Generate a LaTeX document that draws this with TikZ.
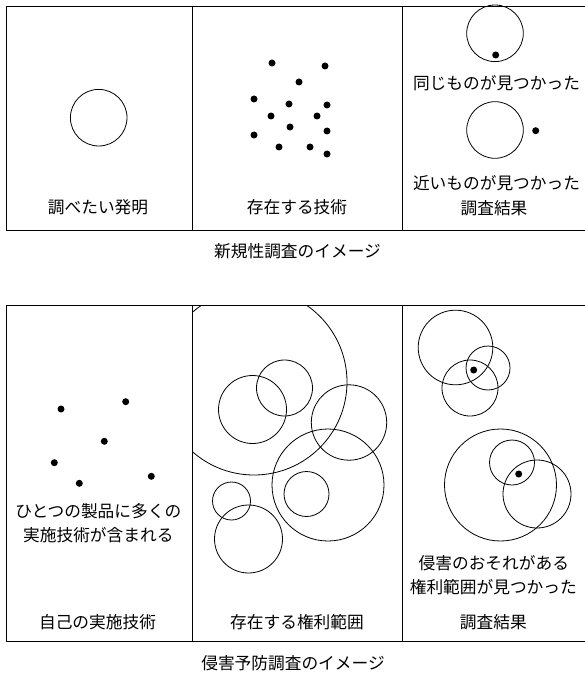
\documentclass[tikz,border=0pt]{standalone}
\usepackage{fontspec}
\setmainfont{Noto Sans CJK JP}
\begin{document}
\begin{tikzpicture}[x=1pt,y=-1pt,line width=0.8pt,
  lbl/.style={font=\fontsize{16.7}{19}\selectfont,inner sep=0pt,anchor=center,align=center},
  dotn/.style={circle,fill=black,inner sep=0pt,minimum size=7pt},
  ring/.style={circle,draw=black,line width=0.8pt,inner sep=0pt,fill=none}]
\useasboundingbox (0,0) rectangle (584,676);
% ---------- top frame ----------
\coordinate (t1) at (586,6);
\coordinate (t2) at (6,6);
\coordinate (t3) at (6,230);
\coordinate (t4) at (586,230);
\draw (t1) -- (t2) -- (t3) -- (t4);
\coordinate (td1a) at (192.7,6); \coordinate (td1b) at (192.7,230);
\coordinate (td2a) at (402.3,6); \coordinate (td2b) at (402.3,230);
\draw (td1a) -- (td1b);
\draw (td2a) -- (td2b);
% panel 1
\node[ring,minimum size=56.6pt] (inv) at (98.7,117.7) {};
\node[lbl] (l1) at (98,207) {調べたい発明};
% panel 2 dots
\foreach \p [count=\i] in {(272,63),(325,66),(299,82),(254,99),(289,104),(327,105),(271,116),(317,116),(290,127),(327,131),(254,135),(279,147),(310,147),(327,154)}
  \node[dotn] (td\i) at \p {};
\node[lbl] (l2) at (297,207) {存在する技術};
% panel 3
\node[ring,minimum size=56.6pt] (r1) at (495,33.3) {};
\node[dotn] (r1d) at (495.7,55) {};
\node[lbl] (l3) at (496.5,82.7) {同じものが見つかった};
\node[ring,minimum size=56.6pt] (r2) at (495,130) {};
\node[dotn] (r2d) at (535.7,130.7) {};
\node[lbl] (l4) at (496.5,182.7) {近いものが見つかった};
\node[lbl] (l5) at (494,208.3) {調査結果};
\node[lbl] (cap1) at (297.5,251.7) {新規性調査のイメージ};
% ---------- bottom frame ----------
\coordinate (b1) at (586,305);
\coordinate (b2) at (6,305);
\coordinate (b3) at (6,641);
\coordinate (b4) at (586,641);
\draw (b1) -- (b2) -- (b3) -- (b4);
\coordinate (bd1a) at (192.7,305); \coordinate (bd1b) at (192.7,641);
\coordinate (bd2a) at (402.3,305); \coordinate (bd2b) at (402.3,641);
\draw (bd1a) -- (bd1b);
\draw (bd2a) -- (bd2b);
% panel 1
\foreach \p [count=\i] in {(61,409),(125.7,401.7),(104.3,441.3),(54.3,462.7),(79.3,483.3),(151.3,476.3)}
  \node[dotn] (bdot\i) at \p {};
\node[lbl] (m1) at (98.3,510.7) {ひとつの製品に多くの};
\node[lbl] (m2) at (98.3,535) {実施技術が含まれる};
\node[lbl] (m3) at (97.5,621.7) {自己の実施技術};
% panel 2
\begin{scope}
  \clip (192.7,305) rectangle (402.3,641);
  \node[ring,minimum size=186pt] (bigc) at (254,382) {};
\end{scope}
\node[ring,minimum size=68pt] (ca) at (252.5,409.5) {};
\node[ring,minimum size=56pt] (cb) at (284.5,388) {};
\node[ring,minimum size=75.4pt] (cc) at (349,422.5) {};
\node[ring,minimum size=112pt] (cd) at (328,485) {};
\node[ring,minimum size=45pt] (ce) at (306.5,494) {};
\node[ring,minimum size=38pt] (cf) at (231.5,501) {};
\node[ring,minimum size=68pt] (cg) at (248.5,539) {};
\node[lbl] (m4) at (297,621.7) {存在する権利範囲};
% panel 3
\node[ring,minimum size=74.6pt] (ra) at (455.5,347.5) {};
\node[ring,minimum size=44pt] (rb) at (488,368) {};
\node[ring,minimum size=56pt] (rc) at (470,388) {};
\node[dotn] (rd1) at (473.7,370) {};
\node[ring,minimum size=112pt] (re) at (500.5,485) {};
\node[ring,minimum size=45pt] (rf) at (512,462.5) {};
\node[ring,minimum size=68pt] (rg) at (537,494) {};
\node[dotn] (rd2) at (518.7,474) {};
\node[lbl] (m5) at (493.8,563.3) {侵害のおそれがある};
\node[lbl] (m6) at (493.3,586.7) {権利範囲が見つかった};
\node[lbl] (m7) at (493.3,621.7) {調査結果};
\node[lbl] (cap2) at (293,662.7) {侵害予防調査のイメージ};
\end{tikzpicture}
\end{document}
